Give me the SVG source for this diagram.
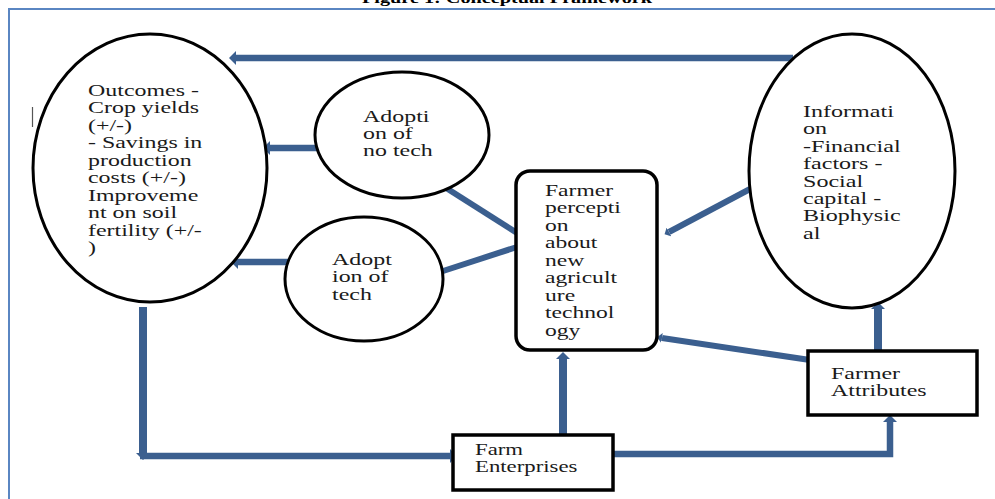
<svg xmlns="http://www.w3.org/2000/svg" width="995" height="499" viewBox="0 0 995 499">
<style>
  .bg{fill:#ffffff}
  .frame{fill:none;stroke:#5a86c2;stroke-width:2}
  .node{fill:#ffffff;stroke:#000000;stroke-width:3}
  .box{fill:#ffffff;stroke:#000000;stroke-width:3.5}
  .t{font-family:"Liberation Serif","Times New Roman",serif;font-size:16.5px;fill:#1a1a1a}
  .title{font-family:"Liberation Serif","Times New Roman",serif;font-size:15px;font-weight:bold;fill:#000}
  .c{fill:none;stroke:#3b5f8f;stroke-linecap:butt;stroke-linejoin:miter}
  .h{stroke-width:6.5}
  .v{stroke-width:8}
  .d{stroke-width:6}
</style>
<defs>
  <marker id="ah" markerUnits="userSpaceOnUse" markerWidth="8" markerHeight="14" refX="0" refY="7" orient="auto" viewBox="0 0 8 14">
    <path d="M0,0 L7,7 L0,14 z" fill="#3b5f8f"/>
  </marker>
  <marker id="ahs" markerUnits="userSpaceOnUse" markerWidth="6" markerHeight="10" refX="0" refY="5" orient="auto" viewBox="0 0 6 10">
    <path d="M0,0 L5,5 L0,10 z" fill="#3b5f8f"/>
  </marker>
</defs>
<rect class="bg" x="0" y="0" width="995" height="499"/>
<text class="title" x="362" y="3" textLength="290" lengthAdjust="spacingAndGlyphs">Figure 1: Conceptual Framework</text>
<rect class="frame" x="9" y="9" width="1000" height="500"/>
<line x1="32.5" y1="107" x2="32.5" y2="127" stroke="#555" stroke-width="1.2"/>

<g id="connectors">
  <line class="c h" x1="793" y1="58" x2="236" y2="58" marker-end="url(#ah)"/>
  <line class="c h" x1="317" y1="148" x2="270" y2="148" marker-end="url(#ah)"/>
  <line class="c h" x1="289" y1="262" x2="238" y2="262" marker-end="url(#ah)"/>
  <line class="c d" x1="443" y1="186" x2="528" y2="240"/>
  <line class="c d" x1="440" y1="272" x2="517" y2="247"/>
  <line class="c d" x1="750" y1="189" x2="669" y2="232" marker-end="url(#ahs)"/>
  <line class="c d" x1="810" y1="360" x2="662" y2="338" marker-end="url(#ahs)"/>
  <line class="c v" x1="143" y1="307" x2="143" y2="453" marker-end="url(#ah)"/>
  <line class="c h" x1="140" y1="456" x2="450" y2="456" marker-end="url(#ah)"/>
  <line class="c v" x1="563" y1="435" x2="563" y2="359" marker-end="url(#ah)"/>
  <polyline class="c h" points="613,454 890,454 890,422" marker-end="url(#ah)"/>
  <line class="c v" x1="878" y1="351" x2="878" y2="309" marker-end="url(#ah)"/>
</g>

<g id="outcomes">
  <ellipse class="node" cx="150" cy="168" rx="117" ry="134"/>
  <text class="t" transform="translate(88,96) scale(1.45,1)">
    <tspan x="0" dy="0">Outcomes -</tspan>
    <tspan x="0" dy="17.5">Crop yields</tspan>
    <tspan x="0" dy="17.5">(+/-)</tspan>
    <tspan x="0" dy="17.5">- Savings in</tspan>
    <tspan x="0" dy="17.5">production</tspan>
    <tspan x="0" dy="17.5">costs (+/-)</tspan>
    <tspan x="0" dy="17.5">Improveme</tspan>
    <tspan x="0" dy="17.5">nt on soil</tspan>
    <tspan x="0" dy="17.5">fertility (+/-</tspan>
    <tspan x="0" dy="17.5">)</tspan>
  </text>
</g>

<g id="adoption-no-tech">
  <ellipse class="node" cx="402" cy="135" rx="87" ry="63"/>
  <text class="t" transform="translate(363,122) scale(1.45,1)">
    <tspan x="0" dy="0">Adopti</tspan>
    <tspan x="0" dy="17.2">on of</tspan>
    <tspan x="0" dy="17.2">no tech</tspan>
  </text>
</g>

<g id="adoption-tech">
  <ellipse class="node" cx="364" cy="279" rx="79" ry="62"/>
  <text class="t" transform="translate(332,265) scale(1.45,1)">
    <tspan x="0" dy="0">Adopt</tspan>
    <tspan x="0" dy="17.5">ion of</tspan>
    <tspan x="0" dy="17.5">tech</tspan>
  </text>
</g>

<g id="farmer-perception">
  <rect class="box" x="516" y="171" width="141" height="179" rx="14" ry="14"/>
  <text class="t" transform="translate(545,196) scale(1.43,1)">
    <tspan x="0" dy="0">Farmer</tspan>
    <tspan x="0" dy="17.5">percepti</tspan>
    <tspan x="0" dy="17.5">on</tspan>
    <tspan x="0" dy="17.5">about</tspan>
    <tspan x="0" dy="17.5">new</tspan>
    <tspan x="0" dy="17.5">agricult</tspan>
    <tspan x="0" dy="17.5">ure</tspan>
    <tspan x="0" dy="17.5">technol</tspan>
    <tspan x="0" dy="17.5">ogy</tspan>
  </text>
</g>

<g id="information">
  <ellipse class="node" cx="852" cy="171" rx="103" ry="137"/>
  <text class="t" transform="translate(803,117) scale(1.46,1)">
    <tspan x="0" dy="0">Informati</tspan>
    <tspan x="0" dy="17.4">on</tspan>
    <tspan x="0" dy="17.4">-Financial</tspan>
    <tspan x="0" dy="17.4">factors -</tspan>
    <tspan x="0" dy="17.4">Social</tspan>
    <tspan x="0" dy="17.4">capital -</tspan>
    <tspan x="0" dy="17.4">Biophysic</tspan>
    <tspan x="0" dy="17.4">al</tspan>
  </text>
</g>

<g id="farm-enterprises">
  <rect class="box" x="453" y="435" width="160" height="55"/>
  <text class="t" transform="translate(475,455) scale(1.38,1)">
    <tspan x="0" dy="0">Farm</tspan>
    <tspan x="0" dy="17.5">Enterprises</tspan>
  </text>
</g>

<g id="farmer-attributes">
  <rect class="box" x="808" y="351" width="169" height="64"/>
  <text class="t" transform="translate(831,379) scale(1.45,1)">
    <tspan x="0" dy="0">Farmer</tspan>
    <tspan x="0" dy="17">Attributes</tspan>
  </text>
</g>
</svg>
